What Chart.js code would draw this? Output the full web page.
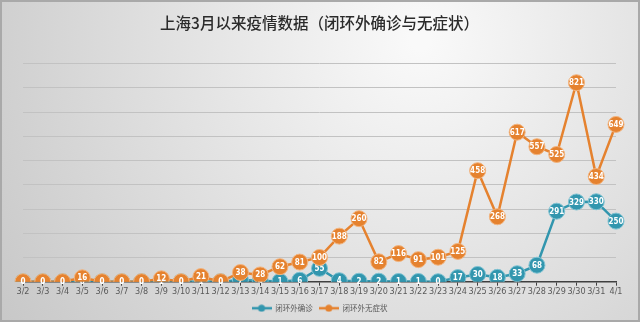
<!DOCTYPE html>
<html>
<head>
<meta charset="utf-8">
<script src="https://cdn.jsdelivr.net/npm/chart.js@4"></script>
<style>
  html, body { margin: 0; padding: 0; }
  #wrap { width: 640px; height: 322px; }
</style>
</head>
<body>
<div id="wrap"><canvas id="chart" width="640" height="322"></canvas></div>
<script>
// ---- data ----
const days = ['3/2','3/3','3/4','3/5','3/6','3/7','3/8','3/9','3/10','3/11','3/12','3/13','3/14','3/15','3/16','3/17',
  '3/18','3/19','3/20','3/21','3/22','3/23','3/24','3/25','3/26','3/27','3/28','3/29','3/30','3/31','4/1'];
const confirmed = [0,0,0,0,0,0,0,1,0,1,0,7,4,1,6,55,4,2,2,1,1,0,17,30,18,33,68,291,329,330,250];
const asymptomatic = [0,0,0,16,0,0,0,12,0,21,0,38,28,62,81,100,188,260,82,116,91,101,125,458,268,617,557,525,821,434,649];
const seriesNames = ['闭环外确诊', '闭环外无症状'];
const yTicksMax = 900;

const BLUE = '#3296AE';
const ORANGE = '#E5822F';

// legend marker: short line with a dot, like the office chart
function legendMark(color) {
  const c = document.createElement('canvas');
  c.width = 20; c.height = 8;
  const g = c.getContext('2d');
  g.strokeStyle = color; g.lineWidth = 2.5;
  g.beginPath(); g.moveTo(0, 4); g.lineTo(20, 4); g.stroke();
  g.fillStyle = color;
  g.beginPath(); g.arc(10, 4, 3.5, 0, Math.PI * 2); g.fill();
  return c;
}
const marks = [legendMark(BLUE), legendMark(ORANGE)];

const bgPlugin = {
  id: 'bg',
  beforeDraw(chart) {
    const { ctx, width, height } = chart;
    ctx.save();
    const g = ctx.createRadialGradient(420, 40, 10, 420, 40, 520);
    g.addColorStop(0, '#f9f9f9');
    g.addColorStop(1, '#c6c6c6');
    ctx.fillStyle = g;
    ctx.fillRect(0, 0, width, height);
    ctx.strokeStyle = '#a9a9a9';
    ctx.lineWidth = 2;
    ctx.strokeRect(1, 1, width - 2, height - 2);
    ctx.restore();
  }
};

// numbers inside the markers, drawn right after each dataset so overlaps stay correct
const valueLabels = {
  id: 'valueLabels',
  afterDatasetDraw(chart, args) {
    const ctx = chart.ctx;
    const ds = chart.data.datasets[args.index];
    ctx.save();
    ctx.font = 'bold 8px "Liberation Sans Narrow", "DejaVu Sans Condensed", "Liberation Sans", sans-serif';
    ctx.fillStyle = '#ffffff';
    ctx.textAlign = 'center';
    ctx.textBaseline = 'middle';
    args.meta.data.forEach((pt, i) => ctx.fillText(String(ds.data[i]), pt.x, pt.y + 0.5));
    ctx.restore();
  }
};

new Chart(document.getElementById('chart'), {
  type: 'line',
  data: {
    labels: days,
    datasets: [
      { label: seriesNames[0], data: confirmed, borderColor: BLUE, backgroundColor: BLUE,
        pointBackgroundColor: BLUE, pointBorderColor: '#80c3d3', order: 1 },
      { label: seriesNames[1], data: asymptomatic, borderColor: ORANGE, backgroundColor: ORANGE,
        pointBackgroundColor: ORANGE, pointBorderColor: '#f3b47e', order: 0 }
    ]
  },
  options: {
    responsive: false,
    animation: false,
    layout: { padding: { left: 23, right: 24, top: 0, bottom: 0 } },
    elements: {
      line: { borderWidth: 2.5, tension: 0 },
      point: { radius: 8, borderWidth: 1, hoverRadius: 8 }
    },
    plugins: {
      title: {
        display: true,
        text: '上海3月以来疫情数据（闭环外确诊与无症状）',
        color: '#2b2b2b',
        font: { family: '"Noto Sans CJK SC", sans-serif', size: 15.5, weight: '500' },
        padding: { top: 14, bottom: 31 }
      },
      legend: {
        position: 'bottom',
        labels: {
          color: '#595959',
          font: { family: '"Noto Sans CJK SC", serif', size: 7.5 },
          usePointStyle: true,
          pointStyleWidth: 20,
          padding: 6,
          generateLabels(chart) {
            return chart.data.datasets.map((d, i) => ({
              text: d.label, datasetIndex: i, pointStyle: marks[i],
              fillStyle: d.borderColor, strokeStyle: d.borderColor, fontColor: '#595959', lineWidth: 0
            }));
          }
        }
      },
      tooltip: { enabled: false }
    },
    scales: {
      x: {
        offset: false,
        grid: { drawOnChartArea: false, drawTicks: true, tickLength: 4, color: '#404040' },
        border: { display: true, color: '#404040', width: 1.5 },
        ticks: {
          autoSkip: false, maxRotation: 0, padding: 1, color: '#595959',
          font: { family: '"Liberation Sans Narrow", "DejaVu Sans Condensed", "Liberation Sans", sans-serif', size: 9 }
        }
      },
      y: {
        min: 0, max: yTicksMax,
        border: { display: false },
        grid: { color: '#c2c2c2', drawTicks: false },
        ticks: { display: false, stepSize: 100 }
      }
    }
  },
  plugins: [bgPlugin, valueLabels]
});
</script>
</body>
</html>
